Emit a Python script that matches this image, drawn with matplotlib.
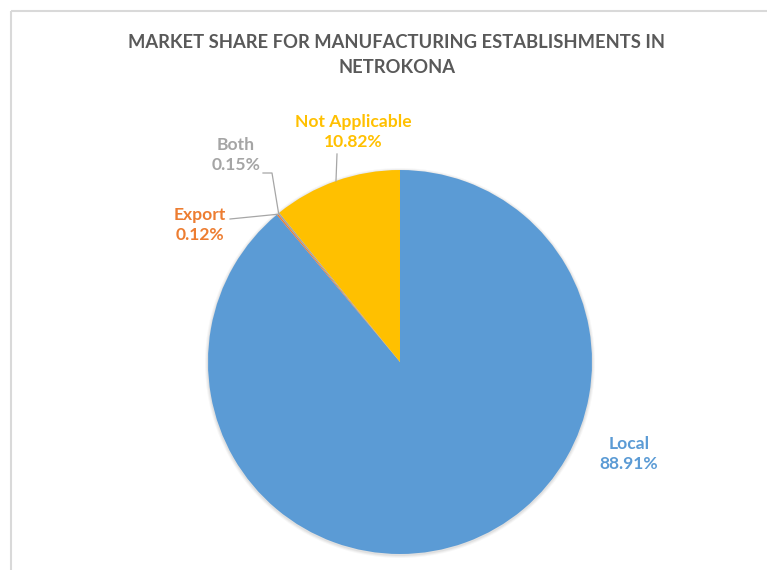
import numpy as np
import matplotlib.pyplot as plt
from matplotlib.patches import Circle

plt.rcParams['font.family'] = ['Lato', 'DejaVu Sans']

markets = ['Local', 'Export', 'Both', 'Not Applicable']
shares = [88.91, 0.12, 0.15, 10.82]
colors = ['#5B9BD5', '#ED7D31', '#A5A5A5', '#FFC000']
title = 'MARKET SHARE FOR MANUFACTURING ESTABLISHMENTS IN\nNETROKONA'

W, H = 767, 570
fig = plt.figure(figsize=(W / 100, H / 100), dpi=100)
ax = fig.add_axes([0, 0, 1, 1])

# chart frame, only top and left edges fall inside the picture
ax.plot([11, W + 5], [H - 11, H - 11], color='#D9D9D9', lw=1.5, solid_capstyle='butt')
ax.plot([11, 11], [H - 11, -5], color='#D9D9D9', lw=1.5, solid_capstyle='butt')

cx, cy, r = 400, H - 362, 192

# soft shadow under the pie
for i, a in enumerate([0.05, 0.04, 0.03]):
    ax.add_patch(Circle((cx, cy - 1), r + 1 + i, color='black', alpha=a, lw=0, zorder=1))

wedges, _ = ax.pie(shares, colors=colors, startangle=90, counterclock=False,
                   center=(cx, cy), radius=r, frame=True,
                   wedgeprops=dict(linewidth=0, zorder=2))
ax.set_xlim(0, W)
ax.set_ylim(0, H)
ax.set_aspect('equal')
ax.axis('off')

ax.text(W / 2 + 13, H - 55, title, ha='center', va='center', fontsize=13.2,
        fontweight='bold', color='#595959', linespacing=1.6)

# label positions (text centre) and leader line elbows
label_pos = {
    'Local': (629, H - 454),
    'Export': (200, H - 225),
    'Both': (236, H - 155),
    'Not Applicable': (353, H - 132),
}
leaders = {
    'Export': [(230, H - 219)],
    'Both': [(263, H - 173), (272, H - 173)],
    'Not Applicable': [(337, H - 154)],
}

for w, name, val, col in zip(wedges, markets, shares, colors):
    ax.text(*label_pos[name], f'{name}\n{val:.2f}%', ha='center', va='center',
            fontsize=12.6, fontweight='bold', color=col, linespacing=1.35)
    if name in leaders:
        mid = np.deg2rad((w.theta1 + w.theta2) / 2)
        edge = (cx + r * np.cos(mid), cy + r * np.sin(mid))
        pts = leaders[name] + [edge]
        xs, ys = zip(*pts)
        ax.plot(xs, ys, color='#A6A6A6', lw=0.9, zorder=3)

fig.savefig('out.png', dpi=100, facecolor='white')
